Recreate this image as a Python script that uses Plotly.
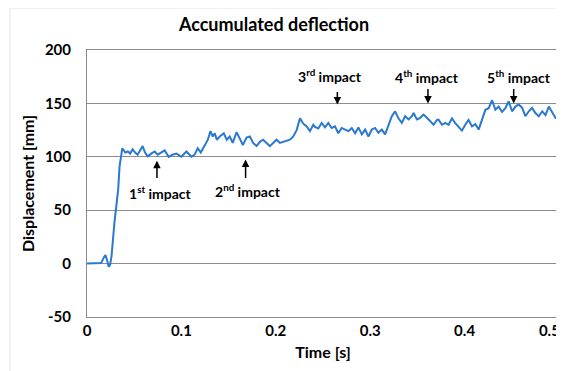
import plotly.graph_objects as go

# ---- data ----
time_s = [0.000, 0.010, 0.015, 0.018, 0.0195, 0.021, 0.023, 0.0245, 0.026, 0.029, 0.033, 0.0345,
          0.0374, 0.0405, 0.0433, 0.0458, 0.0483, 0.051, 0.0536, 0.0562, 0.0589, 0.0615, 0.0642,
          0.068, 0.0717, 0.0748, 0.0785, 0.0823, 0.0865, 0.0905, 0.0947, 0.1, 0.1053, 0.1106,
          0.114, 0.1173, 0.1205, 0.1247, 0.128, 0.1308, 0.1332, 0.1354, 0.1375, 0.1406, 0.1449,
          0.148, 0.1512, 0.1544, 0.1584, 0.1619, 0.1651, 0.169, 0.1725, 0.176, 0.1796, 0.1831,
          0.1866, 0.1902, 0.1937, 0.1972, 0.2008, 0.2044, 0.2079, 0.2115, 0.215, 0.2185, 0.2221,
          0.2256, 0.2291, 0.2327, 0.2362, 0.2397, 0.2415, 0.245, 0.2486, 0.2521, 0.2556, 0.2592,
          0.2627, 0.2662, 0.2698, 0.2734, 0.2769, 0.2805, 0.284, 0.2875, 0.2911, 0.2946, 0.2981,
          0.3017, 0.3052, 0.3087, 0.3123, 0.3158, 0.3193, 0.3229, 0.3264, 0.3299, 0.3335, 0.337,
          0.3406, 0.3442, 0.3459, 0.3495, 0.353, 0.3565, 0.3601, 0.3636, 0.3671, 0.3707, 0.3724,
          0.376, 0.3795, 0.383, 0.3866, 0.3901, 0.3936, 0.3972, 0.4007, 0.4042, 0.4078, 0.4114,
          0.4149, 0.4185, 0.422, 0.4255, 0.4291, 0.4326, 0.4361, 0.4397, 0.4432, 0.4467, 0.4503,
          0.4538, 0.4573, 0.4609, 0.4644, 0.468, 0.4715, 0.475, 0.4786, 0.4822, 0.4857, 0.4892,
          0.4928, 0.4963, 0.500]
displacement_mm = [0, 0, 0.5, 6, 8, 4, -3, -1, 7, 38, 69, 91,
                   108, 104, 105, 103, 107, 104, 102, 106, 110, 104, 100.5,
                   103, 105, 102, 104, 106, 100, 102, 103, 100, 105, 100,
                   102, 108, 104, 110, 116, 124, 119, 122, 116, 119, 122,
                   116, 119, 113, 123, 117, 111, 118, 119, 113, 110, 114,
                   116, 113, 110, 113, 116, 113, 114, 115, 116, 119, 125,
                   136, 131, 128.5, 124, 130, 128, 126.5, 131.7, 127.5, 131.7, 127,
                   128.5, 122, 127, 125.5, 124, 127, 122, 127.5, 121, 125.5, 119,
                   125.5, 127, 122.5, 125.5, 121, 128.5, 138, 142.6, 136, 131.7, 138,
                   135, 138, 141, 135, 136.5, 139.5, 136.5, 133.5, 130, 134.5, 134.8,
                   130, 131.7, 130, 136, 131.5, 128.5, 124.5, 130, 134.5, 128.5, 130.5,
                   125.5, 134.5, 144, 145.5, 153, 144, 147, 142, 145.5, 152, 142.6,
                   147, 149, 146, 138, 142.6, 145.8, 141, 138, 142.6, 139, 147,
                   141, 136.4, 135]

impact_labels = ["1<sup>st</sup> impact", "2<sup>nd</sup> impact", "3<sup>rd</sup> impact",
                 "4<sup>th</sup> impact", "5<sup>th</sup> impact"]
impact_times = [0.0741, 0.1680, 0.2652, 0.3612, 0.4520]

y_ticks = [-50, 0, 50, 100, 150, 200]
x_ticks = [0, 0.1, 0.2, 0.3, 0.4, 0.5]
x_tick_text = ["0", "0.1", "0.2", "0.3", "0.4", "0.5"]

FONT = "Lato, 'Open Sans', sans-serif"
GRID = "#8c8c8c"

fig = go.Figure()
fig.add_trace(go.Scatter(x=time_s, y=displacement_mm, mode="lines",
                         line=dict(color="#2a78d0", width=2), showlegend=False,
                         hoverinfo="skip"))

# text placement (label x, label y) and arrow (tail y, tip y)
label_pos = [(0.0781, 66.5), (0.1704, 68.4), (0.2574, 176), (0.3600, 175.6), (0.4580, 175.6)]
arrow_pos = [(78.7, 96.4), (78.7, 97.4), (162, 149), (164.8, 149.8), (164.8, 149.8)]

for lab, t, (lx, ly), (tail, tip) in zip(impact_labels, impact_times, label_pos, arrow_pos):
    fig.add_annotation(x=lx, y=ly, xref="x", yref="y", text="<b>" + lab + "</b>",
                       showarrow=False, font=dict(family=FONT, size=14, color="black"))
    fig.add_annotation(x=t, y=tip, ax=t, ay=tail, xref="x", yref="y", axref="x", ayref="y",
                       text="", showarrow=True, arrowhead=2, arrowsize=1, arrowwidth=1.5,
                       arrowcolor="black")

# light outer frame of the chart
fig.add_shape(type="rect", xref="paper", yref="paper", x0=-0.163, x1=1.02, y0=-0.25, y1=1.157,
              line=dict(color="#e6e6e6", width=1), layer="below")

# last tick label pulled left so it stays inside the page
tick_text_fmt = ["<b>%s</b>" % s for s in x_tick_text]
tick_text_fmt[-1] = tick_text_fmt[-1] + "&nbsp;" * 5

# page body has an 8px margin, so the figure is 556x363 placed at (8, 8)
fig.update_layout(
    width=556, height=363,
    margin=dict(l=79, r=5, t=42, b=54, autoexpand=False),
    paper_bgcolor="white", plot_bgcolor="white",
    title=dict(text="<b>Accumulated deflection</b>", x=(274 - 8) / 556, xref="container",
               xanchor="center", y=1 - (25 - 8) / 363, yanchor="middle",
               font=dict(family=FONT, size=18, color="black")),
    font=dict(family=FONT, color="black"),
    xaxis=dict(range=[0, 0.5], tickvals=x_ticks, ticktext=tick_text_fmt,
               showgrid=False, zeroline=False, showline=True, linecolor=GRID, linewidth=1,
               mirror=True, ticks="", tickfont=dict(size=15, family=FONT),
               ticklabeloverflow="allow", automargin=False,
               title=dict(text="<b>Time [s]</b>", font=dict(size=16, family=FONT), standoff=8)),
    yaxis=dict(range=[-50, 200], tickvals=y_ticks, ticktext=["<b>%d</b>" % v for v in y_ticks],
               showgrid=True, gridcolor=GRID, gridwidth=1, zeroline=False, showline=True,
               linecolor=GRID, linewidth=1, mirror=True, ticks="outside", ticklen=12,
               tickcolor="rgba(0,0,0,0)", tickfont=dict(size=15, family=FONT),
               automargin=False,
               title=dict(text="<b>Displacement [mm]</b>", font=dict(size=16, family=FONT),
                          standoff=6)),
)

fig.write_html("out.html")
